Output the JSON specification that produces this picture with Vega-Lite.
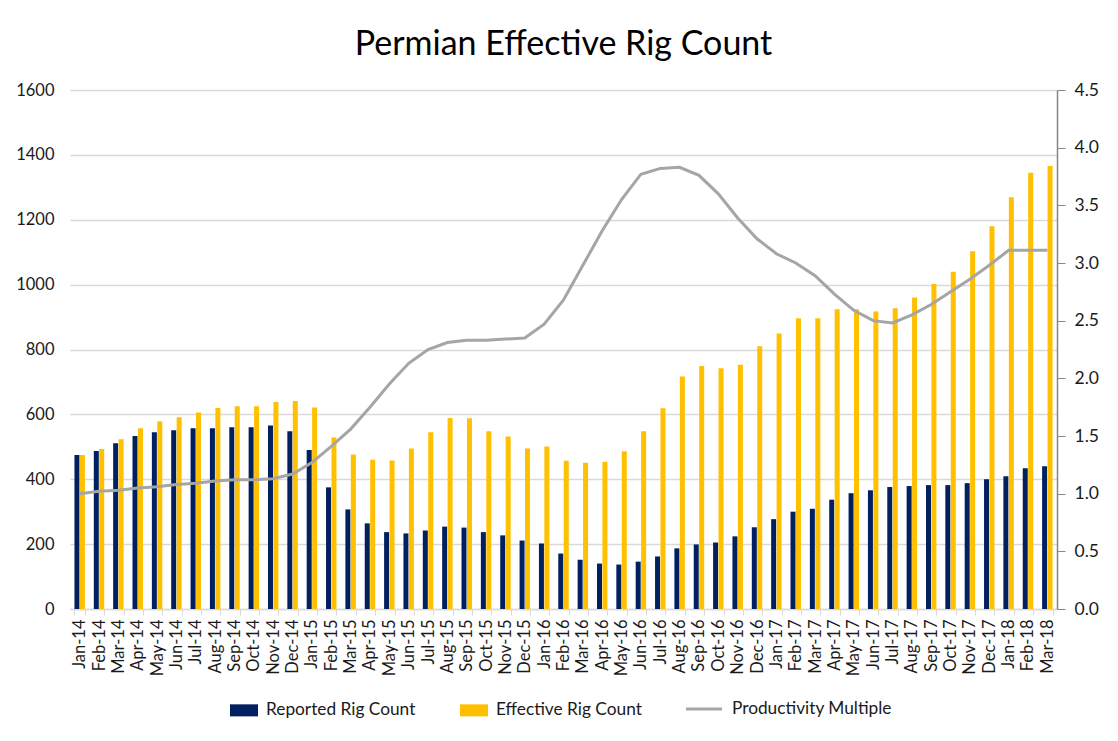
{
  "$schema": "https://vega.github.io/schema/vega-lite/v6.json",
  "width": 987,
  "height": 519,
  "autosize": {"type": "none"},
  "padding": {"left": 70, "top": 90, "right": 61, "bottom": 132},
  "background": "white",
  "config": {
    "view": {"stroke": null},
    "font": "Lato",
    "axis": {"labelFont": "Lato", "labelColor": "#1a1a1a"}
  },
  "title": {
    "text": "Permian Effective Rig Count",
    "fontSize": 34,
    "fontWeight": "normal",
    "font": "Lato",
    "color": "#000000",
    "anchor": "middle",
    "offset": 19
  },
  "data": {
    "values": [
      {"month": "Jan-14", "reported": 475, "effective": 475, "productivity": 1.0},
      {"month": "Feb-14", "reported": 487, "effective": 493, "productivity": 1.02},
      {"month": "Mar-14", "reported": 511, "effective": 523, "productivity": 1.03},
      {"month": "Apr-14", "reported": 533, "effective": 557, "productivity": 1.05},
      {"month": "May-14", "reported": 545, "effective": 579, "productivity": 1.06},
      {"month": "Jun-14", "reported": 551, "effective": 591, "productivity": 1.08},
      {"month": "Jul-14", "reported": 557, "effective": 606, "productivity": 1.09},
      {"month": "Aug-14", "reported": 557, "effective": 620, "productivity": 1.11},
      {"month": "Sep-14", "reported": 560, "effective": 625, "productivity": 1.12},
      {"month": "Oct-14", "reported": 560, "effective": 625, "productivity": 1.12},
      {"month": "Nov-14", "reported": 566, "effective": 638, "productivity": 1.13},
      {"month": "Dec-14", "reported": 548, "effective": 641, "productivity": 1.17},
      {"month": "Jan-15", "reported": 490, "effective": 621, "productivity": 1.27},
      {"month": "Feb-15", "reported": 375, "effective": 529, "productivity": 1.41},
      {"month": "Mar-15", "reported": 307, "effective": 476, "productivity": 1.56},
      {"month": "Apr-15", "reported": 264, "effective": 460, "productivity": 1.75},
      {"month": "May-15", "reported": 237, "effective": 458, "productivity": 1.95},
      {"month": "Jun-15", "reported": 233, "effective": 495, "productivity": 2.13},
      {"month": "Jul-15", "reported": 242, "effective": 545, "productivity": 2.25},
      {"month": "Aug-15", "reported": 254, "effective": 589, "productivity": 2.31},
      {"month": "Sep-15", "reported": 251, "effective": 588, "productivity": 2.33},
      {"month": "Oct-15", "reported": 237, "effective": 548, "productivity": 2.33},
      {"month": "Nov-15", "reported": 227, "effective": 532, "productivity": 2.34},
      {"month": "Dec-15", "reported": 211, "effective": 495, "productivity": 2.35},
      {"month": "Jan-16", "reported": 202, "effective": 501, "productivity": 2.47},
      {"month": "Feb-16", "reported": 171, "effective": 457, "productivity": 2.68},
      {"month": "Mar-16", "reported": 152, "effective": 451, "productivity": 2.98},
      {"month": "Apr-16", "reported": 140, "effective": 454, "productivity": 3.28},
      {"month": "May-16", "reported": 137, "effective": 486, "productivity": 3.55},
      {"month": "Jun-16", "reported": 146, "effective": 548, "productivity": 3.77},
      {"month": "Jul-16", "reported": 162, "effective": 619, "productivity": 3.82},
      {"month": "Aug-16", "reported": 187, "effective": 717, "productivity": 3.83},
      {"month": "Sep-16", "reported": 199, "effective": 749, "productivity": 3.76},
      {"month": "Oct-16", "reported": 205, "effective": 742, "productivity": 3.6},
      {"month": "Nov-16", "reported": 224, "effective": 753, "productivity": 3.39},
      {"month": "Dec-16", "reported": 252, "effective": 810, "productivity": 3.21},
      {"month": "Jan-17", "reported": 277, "effective": 849, "productivity": 3.08},
      {"month": "Feb-17", "reported": 300, "effective": 896, "productivity": 3.0},
      {"month": "Mar-17", "reported": 309, "effective": 896, "productivity": 2.89},
      {"month": "Apr-17", "reported": 337, "effective": 924, "productivity": 2.73},
      {"month": "May-17", "reported": 357, "effective": 924, "productivity": 2.59},
      {"month": "Jun-17", "reported": 366, "effective": 917, "productivity": 2.5},
      {"month": "Jul-17", "reported": 376, "effective": 927, "productivity": 2.48},
      {"month": "Aug-17", "reported": 379, "effective": 960, "productivity": 2.55},
      {"month": "Sep-17", "reported": 382, "effective": 1002, "productivity": 2.64},
      {"month": "Oct-17", "reported": 382, "effective": 1040, "productivity": 2.75},
      {"month": "Nov-17", "reported": 388, "effective": 1103, "productivity": 2.86},
      {"month": "Dec-17", "reported": 400, "effective": 1180, "productivity": 2.98},
      {"month": "Jan-18", "reported": 409, "effective": 1269, "productivity": 3.11},
      {"month": "Feb-18", "reported": 434, "effective": 1345, "productivity": 3.11},
      {"month": "Mar-18", "reported": 440, "effective": 1366, "productivity": 3.11}
    ]
  },
  "encoding": {
    "x": {
      "field": "month",
      "type": "ordinal",
      "sort": null,
      "scale": {"paddingInner": 0.46, "paddingOuter": 0.23},
      "axis": {
        "title": null,
        "labelAngle": -90,
        "labelFontSize": 16.5,
        "labelPadding": 4,
        "domainColor": "#D9D9D9",
        "domainWidth": 1.5,
        "tickColor": "#D9D9D9",
        "tickSize": 6,
        "tickBand": "extent",
        "grid": false
      }
    }
  },
  "layer": [
    {
      "transform": [
        {"fold": ["reported", "effective"], "as": ["series", "value"]}
      ],
      "mark": {"type": "bar"},
      "encoding": {
        "xOffset": {
          "field": "series",
          "type": "nominal",
          "sort": ["reported", "effective"],
          "scale": {"paddingInner": 0.08}
        },
        "y": {
          "field": "value",
          "type": "quantitative",
          "scale": {"domain": [0, 1600], "nice": false},
          "axis": {
            "title": null,
            "values": [0, 200, 400, 600, 800, 1000, 1200, 1400, 1600],
            "format": "d",
            "labelFontSize": 16.5,
            "labelPadding": 16,
            "domain": false,
            "ticks": false,
            "gridColor": "#D9D9D9",
            "gridWidth": 1.5
          }
        },
        "color": {
          "field": "series",
          "type": "nominal",
          "scale": {
            "domain": ["reported", "effective"],
            "range": ["#002060", "#FFC000"]
          },
          "legend": {
            "orient": "none",
            "legendX": 160,
            "legendY": 606,
            "direction": "horizontal",
            "title": null,
            "labelExpr": "datum.value == 'reported' ? 'Reported Rig Count' : 'Effective Rig Count'",
            "symbolType": "M-1,-0.43H1V0.43H-1Z",
            "symbolSize": 784,
            "symbolStrokeWidth": 0,
            "labelFontSize": 17.3,
            "labelFont": "Lato",
            "labelColor": "#1a1a1a",
            "columnPadding": 44,
            "labelOffset": 8
          }
        }
      }
    },
    {
      "mark": {"type": "line", "strokeWidth": 3, "interpolate": "linear"},
      "encoding": {
        "y": {
          "field": "productivity",
          "type": "quantitative",
          "scale": {"domain": [0, 4.5], "nice": false},
          "axis": {
            "orient": "right",
            "title": null,
            "values": [0, 0.5, 1, 1.5, 2, 2.5, 3, 3.5, 4, 4.5],
            "format": ".1f",
            "labelFontSize": 17.5,
            "labelPadding": 9,
            "domainColor": "#868686",
            "domainWidth": 1.5,
            "tickColor": "#868686",
            "tickSize": 8,
            "grid": false
          }
        },
        "stroke": {
          "datum": "Productivity Multiple",
          "type": "nominal",
          "scale": {"range": ["#A5A5A5"]},
          "legend": {
            "orient": "none",
            "legendX": 614,
            "legendY": 599,
            "title": null,
            "symbolType": "stroke",
            "symbolSize": 1300,
            "symbolStrokeWidth": 3,
            "labelFontSize": 17.3,
            "labelFont": "Lato",
            "labelColor": "#1a1a1a",
            "labelOffset": 8
          }
        }
      }
    }
  ],
  "resolve": {"scale": {"y": "independent"}}
}
